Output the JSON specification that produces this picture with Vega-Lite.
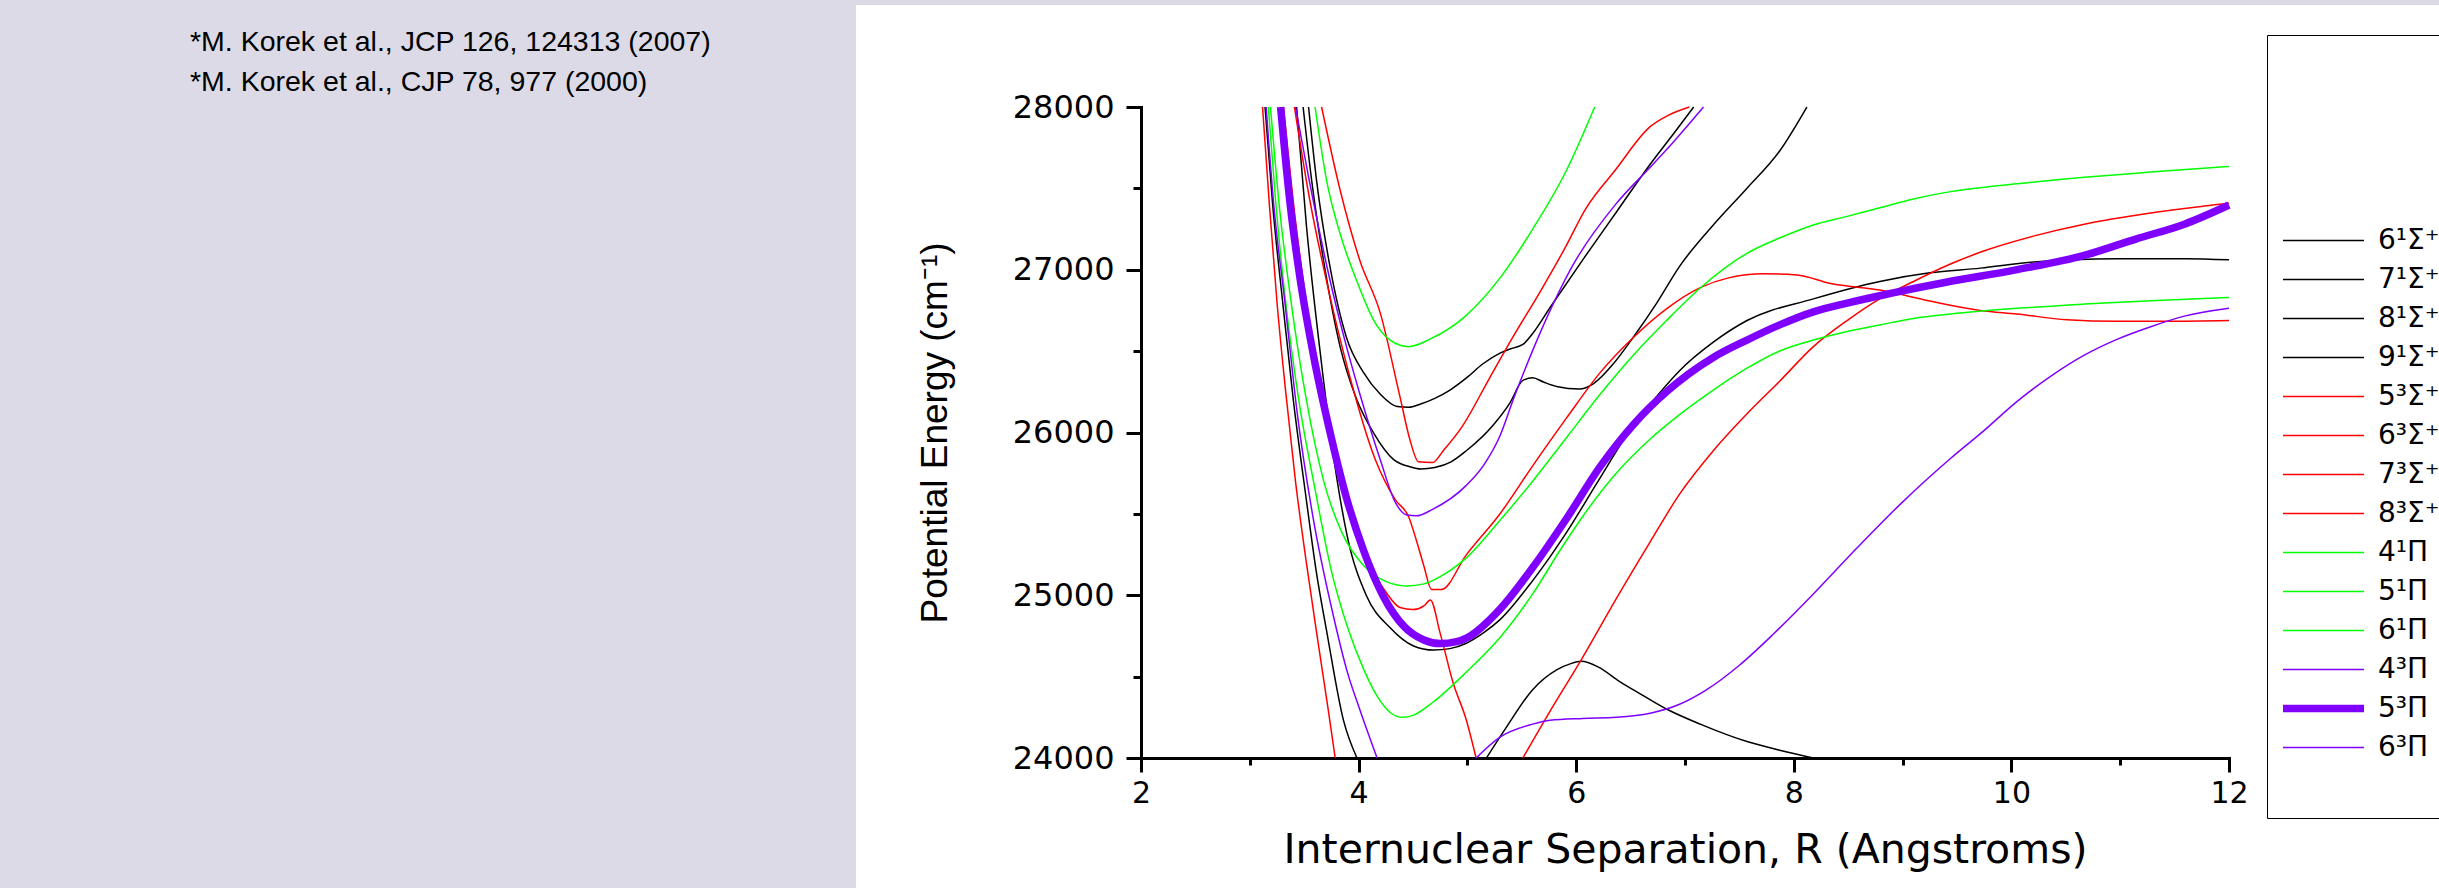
{
 "$schema": "https://vega.github.io/schema/vega-lite/v6.json",
 "autosize": {"type": "none"},
 "width": 1583,
 "height": 883,
 "padding": {"left": 856, "top": 5, "right": 0, "bottom": 0},
 "background": "#DCDAE6",
 "view": {"fill": "white", "stroke": null},
 "title": {
  "text": "*M. Korek et al., JCP 126, 124313 (2007)",
  "subtitle": "*M. Korek et al., CJP 78, 977 (2000)",
  "anchor": "start", "frame": "group", "orient": "top",
  "dx": -666, "dy": 91, "offset": 0,
  "font": "Liberation Sans", "fontSize": 28.5, "fontWeight": "normal", "color": "black",
  "subtitleFont": "Liberation Sans", "subtitleFontSize": 28.5, "subtitleColor": "black", "subtitlePadding": 11
 },
 "data": {"values": [
  {"s":"6¹Σ⁺","g":"a","r":3.14,"e":28000},{"s":"6¹Σ⁺","g":"a","r":3.21,"e":27400},{"s":"6¹Σ⁺","g":"a","r":3.30,"e":26814},{"s":"6¹Σ⁺","g":"a","r":3.40,"e":26200},{"s":"6¹Σ⁺","g":"a","r":3.52,"e":25585},{"s":"6¹Σ⁺","g":"a","r":3.61,"e":25150},{"s":"6¹Σ⁺","g":"a","r":3.71,"e":24766},{"s":"6¹Σ⁺","g":"a","r":3.86,"e":24234},{"s":"6¹Σ⁺","g":"a","r":3.985,"e":24000},
  {"s":"6¹Σ⁺","g":"b","r":5.175,"e":24000},{"s":"6¹Σ⁺","g":"b","r":5.35,"e":24180},{"s":"6¹Σ⁺","g":"b","r":5.6,"e":24420},{"s":"6¹Σ⁺","g":"b","r":5.82,"e":24541},{"s":"6¹Σ⁺","g":"b","r":5.95,"e":24580},{"s":"6¹Σ⁺","g":"b","r":6.05,"e":24594},{"s":"6¹Σ⁺","g":"b","r":6.2,"e":24560},{"s":"6¹Σ⁺","g":"b","r":6.4,"e":24470},{"s":"6¹Σ⁺","g":"b","r":6.6,"e":24390},{"s":"6¹Σ⁺","g":"b","r":6.83,"e":24301},{"s":"6¹Σ⁺","g":"b","r":7.14,"e":24208},{"s":"6¹Σ⁺","g":"b","r":7.57,"e":24101},{"s":"6¹Σ⁺","g":"b","r":7.87,"e":24048},{"s":"6¹Σ⁺","g":"b","r":8.18,"e":24000},
  {"s":"7¹Σ⁺","r":3.43,"e":28000},{"s":"7¹Σ⁺","r":3.52,"e":27275},{"s":"7¹Σ⁺","r":3.65,"e":26475},{"s":"7¹Σ⁺","r":3.77,"e":25850},{"s":"7¹Σ⁺","r":3.9,"e":25350},{"s":"7¹Σ⁺","r":4.07,"e":25000},{"s":"7¹Σ⁺","r":4.29,"e":24800},{"s":"7¹Σ⁺","r":4.5,"e":24690},{"s":"7¹Σ⁺","r":4.69,"e":24663},{"s":"7¹Σ⁺","r":4.84,"e":24672},{"s":"7¹Σ⁺","r":4.99,"e":24705},{"s":"7¹Σ⁺","r":5.15,"e":24770},{"s":"7¹Σ⁺","r":5.3,"e":24850},{"s":"7¹Σ⁺","r":5.6,"e":25090},{"s":"7¹Σ⁺","r":5.91,"e":25385},{"s":"7¹Σ⁺","r":6.2,"e":25700},{"s":"7¹Σ⁺","r":6.5,"e":26020},{"s":"7¹Σ⁺","r":6.75,"e":26230},{"s":"7¹Σ⁺","r":6.95,"e":26380},{"s":"7¹Σ⁺","r":7.26,"e":26555},{"s":"7¹Σ⁺","r":7.57,"e":26688},{"s":"7¹Σ⁺","r":8.18,"e":26821},{"s":"7¹Σ⁺","r":8.79,"e":26928},{"s":"7¹Σ⁺","r":9.25,"e":26981},{"s":"7¹Σ⁺","r":9.715,"e":27010},{"s":"7¹Σ⁺","r":10.21,"e":27048},{"s":"7¹Σ⁺","r":10.97,"e":27067},{"s":"7¹Σ⁺","r":11.6,"e":27068},{"s":"7¹Σ⁺","r":12.0,"e":27061},
  {"s":"8¹Σ⁺","r":3.49,"e":28000},{"s":"8¹Σ⁺","r":3.57,"e":27541},{"s":"8¹Σ⁺","r":3.69,"e":27008},{"s":"8¹Σ⁺","r":3.83,"e":26528},{"s":"8¹Σ⁺","r":3.98,"e":26208},{"s":"8¹Σ⁺","r":4.14,"e":25995},{"s":"8¹Σ⁺","r":4.32,"e":25835},{"s":"8¹Σ⁺","r":4.48,"e":25788},{"s":"8¹Σ⁺","r":4.57,"e":25776},{"s":"8¹Σ⁺","r":4.7,"e":25785},{"s":"8¹Σ⁺","r":4.85,"e":25820},{"s":"8¹Σ⁺","r":4.99,"e":25888},{"s":"8¹Σ⁺","r":5.24,"e":26048},{"s":"8¹Σ⁺","r":5.39,"e":26181},{"s":"8¹Σ⁺","r":5.51,"e":26320},{"s":"8¹Σ⁺","r":5.6,"e":26336},{"s":"8¹Σ⁺","r":5.7,"e":26310},{"s":"8¹Σ⁺","r":5.82,"e":26283},{"s":"8¹Σ⁺","r":6.03,"e":26267},{"s":"8¹Σ⁺","r":6.16,"e":26301},{"s":"8¹Σ⁺","r":6.34,"e":26421},{"s":"8¹Σ⁺","r":6.52,"e":26581},{"s":"8¹Σ⁺","r":6.74,"e":26795},{"s":"8¹Σ⁺","r":6.95,"e":27021},{"s":"8¹Σ⁺","r":7.26,"e":27275},{"s":"8¹Σ⁺","r":7.57,"e":27501},{"s":"8¹Σ⁺","r":7.87,"e":27730},{"s":"8¹Σ⁺","r":8.12,"e":28000},
  {"s":"9¹Σ⁺","r":3.54,"e":28000},{"s":"9¹Σ⁺","r":3.615,"e":27541},{"s":"9¹Σ⁺","r":3.74,"e":27008},{"s":"9¹Σ⁺","r":3.89,"e":26581},{"s":"9¹Σ⁺","r":4.046,"e":26368},{"s":"9¹Σ⁺","r":4.2,"e":26235},{"s":"9¹Σ⁺","r":4.354,"e":26160},{"s":"9¹Σ⁺","r":4.46,"e":26155},{"s":"9¹Σ⁺","r":4.57,"e":26175},{"s":"9¹Σ⁺","r":4.7,"e":26210},{"s":"9¹Σ⁺","r":4.84,"e":26261},{"s":"9¹Σ⁺","r":5.0,"e":26340},{"s":"9¹Σ⁺","r":5.14,"e":26421},{"s":"9¹Σ⁺","r":5.3,"e":26488},{"s":"9¹Σ⁺","r":5.4,"e":26515},{"s":"9¹Σ⁺","r":5.51,"e":26541},{"s":"9¹Σ⁺","r":5.6,"e":26608},{"s":"9¹Σ⁺","r":5.76,"e":26768},{"s":"9¹Σ⁺","r":6.06,"e":27061},{"s":"9¹Σ⁺","r":6.37,"e":27355},{"s":"9¹Σ⁺","r":6.68,"e":27648},{"s":"9¹Σ⁺","r":6.9,"e":27840},{"s":"9¹Σ⁺","r":7.08,"e":28000},
  {"s":"5³Σ⁺","g":"a","r":3.117,"e":28000},{"s":"5³Σ⁺","g":"a","r":3.18,"e":27400},{"s":"5³Σ⁺","g":"a","r":3.25,"e":26800},{"s":"5³Σ⁺","g":"a","r":3.33,"e":26250},{"s":"5³Σ⁺","g":"a","r":3.42,"e":25700},{"s":"5³Σ⁺","g":"a","r":3.52,"e":25200},{"s":"5³Σ⁺","g":"a","r":3.63,"e":24700},{"s":"5³Σ⁺","g":"a","r":3.72,"e":24300},{"s":"5³Σ⁺","g":"a","r":3.785,"e":24000},
  {"s":"5³Σ⁺","g":"b","r":5.51,"e":24000},{"s":"5³Σ⁺","g":"b","r":5.76,"e":24288},{"s":"5³Σ⁺","g":"b","r":6.05,"e":24608},{"s":"5³Σ⁺","g":"b","r":6.37,"e":24981},{"s":"5³Σ⁺","g":"b","r":6.68,"e":25328},{"s":"5³Σ⁺","g":"b","r":6.95,"e":25621},{"s":"5³Σ⁺","g":"b","r":7.26,"e":25888},{"s":"5³Σ⁺","g":"b","r":7.57,"e":26115},{"s":"5³Σ⁺","g":"b","r":7.87,"e":26315},{"s":"5³Σ⁺","g":"b","r":8.18,"e":26528},{"s":"5³Σ⁺","g":"b","r":8.49,"e":26688},{"s":"5³Σ⁺","g":"b","r":8.79,"e":26821},{"s":"5³Σ⁺","g":"b","r":9.1,"e":26928},{"s":"5³Σ⁺","g":"b","r":9.44,"e":27035},{"s":"5³Σ⁺","g":"b","r":9.745,"e":27115},{"s":"5³Σ⁺","g":"b","r":10.21,"e":27208},{"s":"5³Σ⁺","g":"b","r":10.67,"e":27280},{"s":"5³Σ⁺","g":"b","r":11.13,"e":27333},{"s":"5³Σ⁺","g":"b","r":11.59,"e":27376},{"s":"5³Σ⁺","g":"b","r":12.0,"e":27408},
  {"s":"6³Σ⁺","r":3.31,"e":28000},{"s":"6³Σ⁺","r":3.42,"e":27300},{"s":"6³Σ⁺","r":3.52,"e":26800},{"s":"6³Σ⁺","r":3.615,"e":26405},{"s":"6³Σ⁺","r":3.74,"e":25933},{"s":"6³Σ⁺","r":3.92,"e":25500},{"s":"6³Σ⁺","r":4.07,"e":25220},{"s":"6³Σ⁺","r":4.23,"e":25040},{"s":"6³Σ⁺","r":4.38,"e":24925},{"s":"6³Σ⁺","r":4.5,"e":24912},{"s":"6³Σ⁺","r":4.6,"e":24935},{"s":"6³Σ⁺","r":4.66,"e":24971},{"s":"6³Σ⁺","r":4.75,"e":24766},{"s":"6³Σ⁺","r":4.87,"e":24459},{"s":"6³Σ⁺","r":4.99,"e":24234},{"s":"6³Σ⁺","r":5.08,"e":24000},
  {"s":"7³Σ⁺","r":3.41,"e":28000},{"s":"7³Σ⁺","r":3.54,"e":27470},{"s":"7³Σ⁺","r":3.73,"e":26856},{"s":"7³Σ⁺","r":3.92,"e":26341},{"s":"7³Σ⁺","r":4.155,"e":25831},{"s":"7³Σ⁺","r":4.34,"e":25585},{"s":"7³Σ⁺","r":4.46,"e":25482},{"s":"7³Σ⁺","r":4.53,"e":25340},{"s":"7³Σ⁺","r":4.6,"e":25180},{"s":"7³Σ⁺","r":4.67,"e":25035},{"s":"7³Σ⁺","r":4.76,"e":25035},{"s":"7³Σ⁺","r":4.99,"e":25248},{"s":"7³Σ⁺","r":5.3,"e":25501},{"s":"7³Σ⁺","r":5.6,"e":25795},{"s":"7³Σ⁺","r":5.91,"e":26088},{"s":"7³Σ⁺","r":6.22,"e":26368},{"s":"7³Σ⁺","r":6.52,"e":26581},{"s":"7³Σ⁺","r":6.83,"e":26760},{"s":"7³Σ⁺","r":7.14,"e":26890},{"s":"7³Σ⁺","r":7.4,"e":26950},{"s":"7³Σ⁺","r":7.72,"e":26975},{"s":"7³Σ⁺","r":8.03,"e":26968},{"s":"7³Σ⁺","r":8.34,"e":26915},{"s":"7³Σ⁺","r":8.79,"e":26875},{"s":"7³Σ⁺","r":9.25,"e":26808},{"s":"7³Σ⁺","r":9.715,"e":26750},{"s":"7³Σ⁺","r":10.05,"e":26728},{"s":"7³Σ⁺","r":10.51,"e":26693},{"s":"7³Σ⁺","r":10.97,"e":26683},{"s":"7³Σ⁺","r":11.43,"e":26683},{"s":"7³Σ⁺","r":12.0,"e":26688},
  {"s":"8³Σ⁺","r":3.66,"e":28000},{"s":"8³Σ⁺","r":3.83,"e":27490},{"s":"8³Σ⁺","r":4.01,"e":27060},{"s":"8³Σ⁺","r":4.2,"e":26732},{"s":"8³Σ⁺","r":4.38,"e":26220},{"s":"8³Σ⁺","r":4.47,"e":25960},{"s":"8³Σ⁺","r":4.55,"e":25820},{"s":"8³Σ⁺","r":4.68,"e":25815},{"s":"8³Σ⁺","r":4.78,"e":25890},{"s":"8³Σ⁺","r":4.95,"e":26035},{"s":"8³Σ⁺","r":5.2,"e":26330},{"s":"8³Σ⁺","r":5.42,"e":26589},{"s":"8³Σ⁺","r":5.66,"e":26855},{"s":"8³Σ⁺","r":5.91,"e":27150},{"s":"8³Σ⁺","r":6.08,"e":27367},{"s":"8³Σ⁺","r":6.36,"e":27613},{"s":"8³Σ⁺","r":6.68,"e":27879},{"s":"8³Σ⁺","r":6.85,"e":27950},{"s":"8³Σ⁺","r":7.04,"e":28000},
  {"s":"4¹Π","r":3.17,"e":28000},{"s":"4¹Π","r":3.24,"e":27400},{"s":"4¹Π","r":3.33,"e":26800},{"s":"4¹Π","r":3.45,"e":26200},{"s":"4¹Π","r":3.6,"e":25650},{"s":"4¹Π","r":3.75,"e":25150},{"s":"4¹Π","r":3.9,"e":24800},{"s":"4¹Π","r":4.05,"e":24540},{"s":"4¹Π","r":4.17,"e":24380},{"s":"4¹Π","r":4.3,"e":24275},{"s":"4¹Π","r":4.4,"e":24250},{"s":"4¹Π","r":4.5,"e":24262},{"s":"4¹Π","r":4.68,"e":24341},{"s":"4¹Π","r":4.99,"e":24528},{"s":"4¹Π","r":5.3,"e":24741},{"s":"4¹Π","r":5.6,"e":25008},{"s":"4¹Π","r":5.85,"e":25275},{"s":"4¹Π","r":6.05,"e":25475},{"s":"4¹Π","r":6.34,"e":25728},{"s":"4¹Π","r":6.68,"e":25960},{"s":"4¹Π","r":6.95,"e":26110},{"s":"4¹Π","r":7.26,"e":26261},{"s":"4¹Π","r":7.57,"e":26395},{"s":"4¹Π","r":7.87,"e":26501},{"s":"4¹Π","r":8.18,"e":26568},{"s":"4¹Π","r":8.49,"e":26621},{"s":"4¹Π","r":8.79,"e":26661},{"s":"4¹Π","r":9.1,"e":26701},{"s":"4¹Π","r":9.44,"e":26728},{"s":"4¹Π","r":10.05,"e":26763},{"s":"4¹Π","r":10.67,"e":26789},{"s":"4¹Π","r":11.28,"e":26810},{"s":"4¹Π","r":12.0,"e":26829},
  {"s":"5¹Π","r":3.19,"e":28000},{"s":"5¹Π","r":3.27,"e":27400},{"s":"5¹Π","r":3.38,"e":26800},{"s":"5¹Π","r":3.52,"e":26200},{"s":"5¹Π","r":3.68,"e":25700},{"s":"5¹Π","r":3.85,"e":25380},{"s":"5¹Π","r":4.05,"e":25180},{"s":"5¹Π","r":4.25,"e":25085},{"s":"5¹Π","r":4.44,"e":25057},{"s":"5¹Π","r":4.6,"e":25070},{"s":"5¹Π","r":4.75,"e":25115},{"s":"5¹Π","r":4.99,"e":25230},{"s":"5¹Π","r":5.3,"e":25461},{"s":"5¹Π","r":5.6,"e":25701},{"s":"5¹Π","r":5.91,"e":25968},{"s":"5¹Π","r":6.22,"e":26235},{"s":"5¹Π","r":6.525,"e":26475},{"s":"5¹Π","r":6.83,"e":26688},{"s":"5¹Π","r":7.14,"e":26888},{"s":"5¹Π","r":7.57,"e":27101},{"s":"5¹Π","r":7.87,"e":27195},{"s":"5¹Π","r":8.18,"e":27275},{"s":"5¹Π","r":8.49,"e":27328},{"s":"5¹Π","r":8.79,"e":27381},{"s":"5¹Π","r":9.1,"e":27435},{"s":"5¹Π","r":9.44,"e":27480},{"s":"5¹Π","r":10.05,"e":27528},{"s":"5¹Π","r":10.67,"e":27568},{"s":"5¹Π","r":11.28,"e":27600},{"s":"5¹Π","r":12.0,"e":27635},
  {"s":"6¹Π","r":3.6,"e":28000},{"s":"6¹Π","r":3.708,"e":27541},{"s":"6¹Π","r":3.83,"e":27221},{"s":"6¹Π","r":3.985,"e":26928},{"s":"6¹Π","r":4.14,"e":26688},{"s":"6¹Π","r":4.29,"e":26568},{"s":"6¹Π","r":4.46,"e":26528},{"s":"6¹Π","r":4.66,"e":26575},{"s":"6¹Π","r":4.99,"e":26720},{"s":"6¹Π","r":5.3,"e":26950},{"s":"6¹Π","r":5.6,"e":27250},{"s":"6¹Π","r":5.91,"e":27610},{"s":"6¹Π","r":6.17,"e":28000},
  {"s":"4³Π","g":"a","r":3.15,"e":28000},{"s":"4³Π","g":"a","r":3.22,"e":27400},{"s":"4³Π","g":"a","r":3.32,"e":26814},{"s":"4³Π","g":"a","r":3.44,"e":26098},{"s":"4³Π","g":"a","r":3.58,"e":25483},{"s":"4³Π","g":"a","r":3.77,"e":24868},{"s":"4³Π","g":"a","r":3.9,"e":24520},{"s":"4³Π","g":"a","r":4.01,"e":24300},{"s":"4³Π","g":"a","r":4.17,"e":24000},
  {"s":"4³Π","g":"b","r":5.08,"e":24000},{"s":"4³Π","g":"b","r":5.3,"e":24128},{"s":"4³Π","g":"b","r":5.6,"e":24208},{"s":"4³Π","g":"b","r":5.76,"e":24232},{"s":"4³Π","g":"b","r":6.06,"e":24243},{"s":"4³Π","g":"b","r":6.37,"e":24250},{"s":"4³Π","g":"b","r":6.68,"e":24275},{"s":"4³Π","g":"b","r":6.95,"e":24330},{"s":"4³Π","g":"b","r":7.2,"e":24420},{"s":"4³Π","g":"b","r":7.5,"e":24570},{"s":"4³Π","g":"b","r":7.81,"e":24760},{"s":"4³Π","g":"b","r":8.18,"e":25008},{"s":"4³Π","g":"b","r":8.58,"e":25290},{"s":"4³Π","g":"b","r":8.98,"e":25560},{"s":"4³Π","g":"b","r":9.44,"e":25840},{"s":"4³Π","g":"b","r":9.745,"e":26010},{"s":"4³Π","g":"b","r":10.05,"e":26190},{"s":"4³Π","g":"b","r":10.36,"e":26345},{"s":"4³Π","g":"b","r":10.67,"e":26475},{"s":"4³Π","g":"b","r":10.97,"e":26572},{"s":"4³Π","g":"b","r":11.28,"e":26650},{"s":"4³Π","g":"b","r":11.59,"e":26715},{"s":"4³Π","g":"b","r":12.0,"e":26763},
  {"s":"5³Π","r":3.283,"e":28000},{"s":"5³Π","r":3.37,"e":27408},{"s":"5³Π","r":3.46,"e":26955},{"s":"5³Π","r":3.585,"e":26475},{"s":"5³Π","r":3.74,"e":25995},{"s":"5³Π","r":3.89,"e":25595},{"s":"5³Π","r":4.046,"e":25275},{"s":"5³Π","r":4.23,"e":24990},{"s":"5³Π","r":4.415,"e":24810},{"s":"5³Π","r":4.6,"e":24725},{"s":"5³Π","r":4.75,"e":24703},{"s":"5³Π","r":4.9,"e":24715},{"s":"5³Π","r":5.0,"e":24740},{"s":"5³Π","r":5.3,"e":24915},{"s":"5³Π","r":5.6,"e":25170},{"s":"5³Π","r":5.91,"e":25470},{"s":"5³Π","r":6.22,"e":25790},{"s":"5³Π","r":6.525,"e":26048},{"s":"5³Π","r":6.83,"e":26250},{"s":"5³Π","r":7.26,"e":26461},{"s":"5³Π","r":7.57,"e":26568},{"s":"5³Π","r":7.87,"e":26661},{"s":"5³Π","r":8.18,"e":26741},{"s":"5³Π","r":8.49,"e":26795},{"s":"5³Π","r":8.89,"e":26855},{"s":"5³Π","r":9.41,"e":26925},{"s":"5³Π","r":10.03,"e":26998},{"s":"5³Π","r":10.67,"e":27088},{"s":"5³Π","r":11.15,"e":27190},{"s":"5³Π","r":11.59,"e":27280},{"s":"5³Π","r":12.0,"e":27398},
  {"s":"6³Π","r":3.42,"e":28000},{"s":"6³Π","r":3.54,"e":27570},{"s":"6³Π","r":3.73,"e":26957},{"s":"6³Π","r":3.9,"e":26500},{"s":"6³Π","r":4.01,"e":26240},{"s":"6³Π","r":4.2,"e":25831},{"s":"6³Π","r":4.34,"e":25567},{"s":"6³Π","r":4.446,"e":25493},{"s":"6³Π","r":4.53,"e":25488},{"s":"6³Π","r":4.68,"e":25528},{"s":"6³Π","r":4.99,"e":25675},{"s":"6³Π","r":5.15,"e":25800},{"s":"6³Π","r":5.3,"e":25980},{"s":"6³Π","r":5.42,"e":26200},{"s":"6³Π","r":5.61,"e":26520},{"s":"6³Π","r":5.98,"e":27040},{"s":"6³Π","r":6.36,"e":27400},{"s":"6³Π","r":6.68,"e":27630},{"s":"6³Π","r":6.9,"e":27790},{"s":"6³Π","r":7.17,"e":28000}
 ]},
 "mark": {"type": "line", "interpolate": "monotone"},
 "encoding": {
  "x": {
   "field": "r", "type": "quantitative",
   "scale": {"domain": [2, 12], "range": [285, 1373], "nice": false, "zero": false},
   "axis": {
    "values": [2,3,4,5,6,7,8,9,10,11,12],
    "labelExpr": "datum.value % 2 === 0 ? datum.label : ''",
    "tickSize": {"condition": {"test": "datum.value % 2 === 0", "value": 14}, "value": 7},
    "offset": -130, "labelPadding": 6, "labelFontSize": 30, "labelOverlap": false, "labelFlush": false,
    "title": "Internuclear Separation, R (Angstroms)", "titleFont": "DejaVu Sans", "titleFontSize": 41, "titlePadding": 22
   }
  },
  "y": {
   "field": "e", "type": "quantitative",
   "scale": {"domain": [24000, 28000], "range": [753, 102], "nice": false, "zero": false},
   "axis": {
    "values": [24000,24500,25000,25500,26000,26500,27000,27500,28000],
    "format": "d",
    "labelExpr": "datum.value % 1000 === 0 ? datum.label : ''",
    "tickSize": {"condition": {"test": "datum.value % 1000 === 0", "value": 15}, "value": 8},
    "offset": -285, "labelPadding": 12, "labelFontSize": 32, "labelOverlap": false, "labelFlush": false,
    "title": "Potential Energy (cm⁻¹)", "titleFont": "Liberation Sans", "titleFontSize": 37, "titlePadding": 58
   }
  },
  "color": {
   "field": "s", "type": "ordinal",
   "scale": {
    "domain": ["6¹Σ⁺","7¹Σ⁺","8¹Σ⁺","9¹Σ⁺","5³Σ⁺","6³Σ⁺","7³Σ⁺","8³Σ⁺","4¹Π","5¹Π","6¹Π","4³Π","5³Π","6³Π"," "],
    "range": ["#000000","#000000","#000000","#000000","#FF0000","#FF0000","#FF0000","#FF0000","#00FF00","#00FF00","#00FF00","#8000FF","#8000FF","#8000FF","rgba(0,0,0,0)"]
   },
   "legend": {
    "orient": "none", "legendX": 1411, "legendY": 30,
    "title": "\u00a0", "titleFontSize": 10, "titlePadding": 164,
    "padding": 12, "strokeColor": "black", "fillColor": "white",
    "symbolType": "stroke", "symbolSize": 6561, "clipHeight": 39, "rowPadding": 0,
    "labelFont": "DejaVu Sans", "labelFontSize": 28, "labelColor": "black", "labelOffset": 10, "labelLimit": 0
   }
  },
  "strokeWidth": {
   "field": "s", "type": "ordinal",
   "scale": {
    "type": "ordinal",
    "domain": ["6¹Σ⁺","7¹Σ⁺","8¹Σ⁺","9¹Σ⁺","5³Σ⁺","6³Σ⁺","7³Σ⁺","8³Σ⁺","4¹Π","5¹Π","6¹Π","4³Π","5³Π","6³Π"," "],
    "range": [1.5,1.5,1.5,1.5,1.5,1.5,1.5,1.5,1.5,1.5,1.5,1.5,7.5,1.5,0]
   }
  },
  "detail": {"field": "g"}
 },
 "config": {
  "axis": {
   "domainColor": "black", "domainWidth": 3, "domainCap": "square",
   "tickColor": "black", "tickWidth": 3, "grid": false,
   "labelColor": "black", "labelFont": "DejaVu Sans",
   "titleColor": "black", "titleFontWeight": "normal"
  }
 }
}
